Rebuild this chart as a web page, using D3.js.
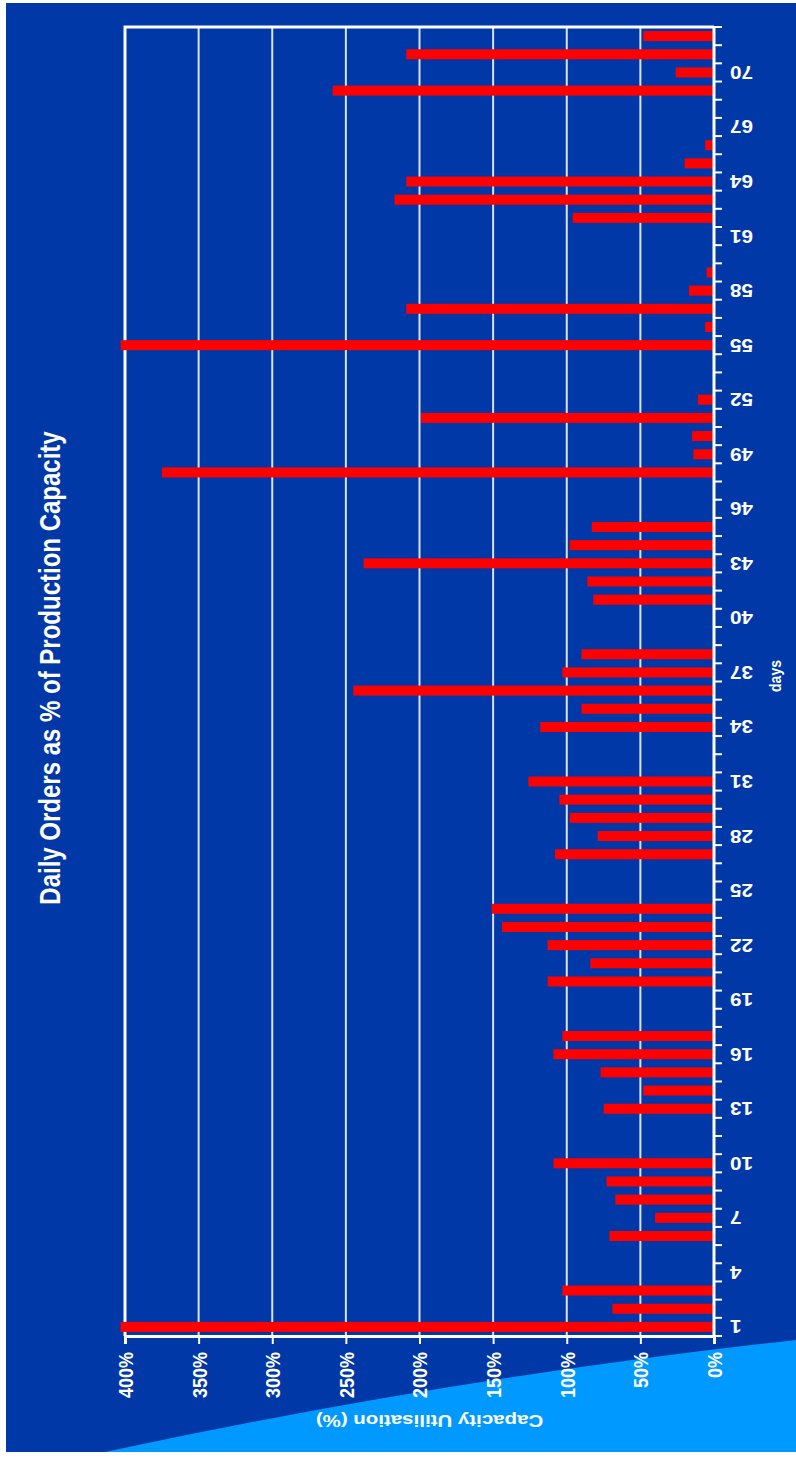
<!DOCTYPE html>
<html>
<head>
<meta charset="utf-8">
<script src="https://cdn.jsdelivr.net/npm/d3@7"></script>
<style>
  html, body { margin: 0; padding: 0; background: #ffffff; }
  svg { display: block; }
</style>
</head>
<body>
<script>
// Days of the production period
const days = [
   1,  2,  3,  4,  5,  6,  7,  8,  9, 10, 11, 12,
  13, 14, 15, 16, 17, 18, 19, 20, 21, 22, 23, 24,
  25, 26, 27, 28, 29, 30, 31, 32, 33, 34, 35, 36,
  37, 38, 39, 40, 41, 42, 43, 44, 45, 46, 47, 48,
  49, 50, 51, 52, 53, 54, 55, 56, 57, 58, 59, 60,
  61, 62, 63, 64, 65, 66, 67, 68, 69, 70, 71, 72
];

// Orders received each day as % of production capacity
const utilisation = [
  403,  69, 103,   0,   0,  71,  40,  67,  73, 109,   0,   0,
   75,  48,  77, 109, 103,   0,   0, 113,  84, 113, 144, 151,
    0,   0, 108,  79,  98, 105, 126,   0,   0, 118,  90, 245,
  103,  90,   0,   0,  82,  86, 238,  98,  83,   0,   0, 375,
   14,  15, 199,  11,   0,   0, 403,   6, 209,  17,   5,   0,
    0,  96, 217, 209,  20,   6,   0,   0, 259,  26, 209,  48
];

const valueTicks = [0, 50, 100, 150, 200, 250, 300, 350, 400];
const dayTickLabels = [1, 4, 7, 10, 13, 16, 19, 22, 25, 28, 31, 34, 37, 40, 43, 46, 49, 52, 55, 58, 61, 64, 67, 70];

const titleText = "Daily Orders as % of Production Capacity";
const valueTitle = "Capacity Utilisation (%)";
const dayTitle = "days";

const W = 796, H = 1461;
const BG = "#0038a8", LIGHT = "#0099ff", BAR = "#ff0000";
const FONT = "'Liberation Sans', Arial, sans-serif";

const svg = d3.select("body").append("svg")
  .attr("width", W).attr("height", H);

// Panel background and lower-right swoosh
svg.append("rect").attr("x", 6).attr("y", 3).attr("width", 790).attr("height", 1449).attr("fill", BG);
svg.append("path")
  .attr("d", "M105,1452 Q449.5,1378 796,1340 L796,1452 Z")
  .attr("fill", LIGHT);

// Plot region: values run right-to-left, days run bottom-to-top
const plot = { left: 125, right: 714, top: 27, bottom: 1336 };

const x = d3.scaleLinear().domain([0, 400]).range([plot.right, plot.left]);
const y = d3.scaleBand().domain(days).range([plot.bottom, plot.top]).paddingInner(0.45).paddingOuter(0.225);

// Gridlines
svg.append("g").selectAll("line")
  .data(valueTicks.filter(v => v > 0 && v < 400))
  .join("line")
  .attr("x1", d => x(d)).attr("x2", d => x(d))
  .attr("y1", plot.top).attr("y2", plot.bottom)
  .attr("stroke", "#ffffff").attr("stroke-opacity", 0.85).attr("stroke-width", 2);

// Frame (top and far edge)
svg.append("path")
  .attr("d", `M${x(0)},${plot.top} H${x(400)} V${plot.bottom}`)
  .attr("fill", "none").attr("stroke", "#ffffff").attr("stroke-width", 3);

// Bars
svg.append("g").selectAll("rect")
  .data(days.map((d, i) => ({ day: d, value: utilisation[i] })).filter(d => d.value > 0))
  .join("rect")
  .attr("x", d => x(d.value))
  .attr("width", d => x(0) - x(d.value))
  .attr("y", d => y(d.day))
  .attr("height", y.bandwidth())
  .attr("fill", BAR);

// Value axis along the bottom
const valueAxis = d3.axisBottom(x).tickValues(valueTicks).tickSize(8).tickPadding(0)
  .tickFormat(d => d + "%");
const gv = svg.append("g").attr("transform", `translate(0,${plot.bottom})`).call(valueAxis);
gv.select(".domain").attr("stroke", "#ffffff").attr("stroke-width", 3);
gv.selectAll(".tick line").attr("stroke", "#ffffff").attr("stroke-width", 2);
gv.selectAll(".tick text")
  .attr("x", null).attr("y", null).attr("dy", null)
  .attr("transform", "translate(0,16) scale(1.15,1) rotate(-90)")
  .attr("text-anchor", "end")
  .attr("dominant-baseline", "central")
  .attr("fill", "#ffffff")
  .attr("font-family", FONT).attr("font-weight", "bold").attr("font-size", 18);

// Day axis along the right edge, ticks between days
const step = y.step();
const boundaries = days.map(d => y(d) + y.bandwidth() / 2 + step / 2).concat([y(days[days.length - 1]) + y.bandwidth() / 2 - step / 2]);
const gd = svg.append("g");
gd.append("line")
  .attr("x1", plot.right).attr("x2", plot.right)
  .attr("y1", plot.top).attr("y2", plot.bottom + 2)
  .attr("stroke", "#ffffff").attr("stroke-width", 3);
gd.selectAll("line.tk")
  .data(boundaries)
  .join("line").attr("class", "tk")
  .attr("x1", plot.right).attr("x2", plot.right + 8)
  .attr("y1", d => d).attr("y2", d => d)
  .attr("stroke", "#ffffff").attr("stroke-width", 2);
gd.selectAll("text")
  .data(dayTickLabels)
  .join("text")
  .attr("transform", d => `translate(${plot.right + 16},${y(d) + y.bandwidth() / 2}) scale(1.15,1) rotate(180)`)
  .attr("text-anchor", "end")
  .attr("dominant-baseline", "central")
  .attr("fill", "#ffffff")
  .attr("font-family", FONT).attr("font-weight", "bold").attr("font-size", 18)
  .text(d => d);

// Axis titles
svg.append("text")
  .attr("transform", `translate(775,676) scale(1.2,1) rotate(-90)`)
  .attr("text-anchor", "middle").attr("dominant-baseline", "central")
  .attr("fill", "#ffffff")
  .attr("font-family", FONT).attr("font-weight", "bold").attr("font-size", 14)
  .text(dayTitle);

svg.append("text")
  .attr("transform", `translate(${(plot.left + plot.right) / 2 + 10},1421) scale(1.28,1) rotate(180)`)
  .attr("text-anchor", "middle").attr("dominant-baseline", "central")
  .attr("fill", "#ffffff")
  .attr("font-family", FONT).attr("font-weight", "bold").attr("font-size", 16)
  .text(valueTitle);

// Chart title
svg.append("text")
  .attr("transform", `translate(60,668) scale(1.25,1) rotate(-90)`)
  .attr("text-anchor", "middle")
  .attr("fill", "#ffffff")
  .attr("font-family", FONT).attr("font-weight", "bold").attr("font-size", 24)
  .text(titleText);
</script>
</body>
</html>
